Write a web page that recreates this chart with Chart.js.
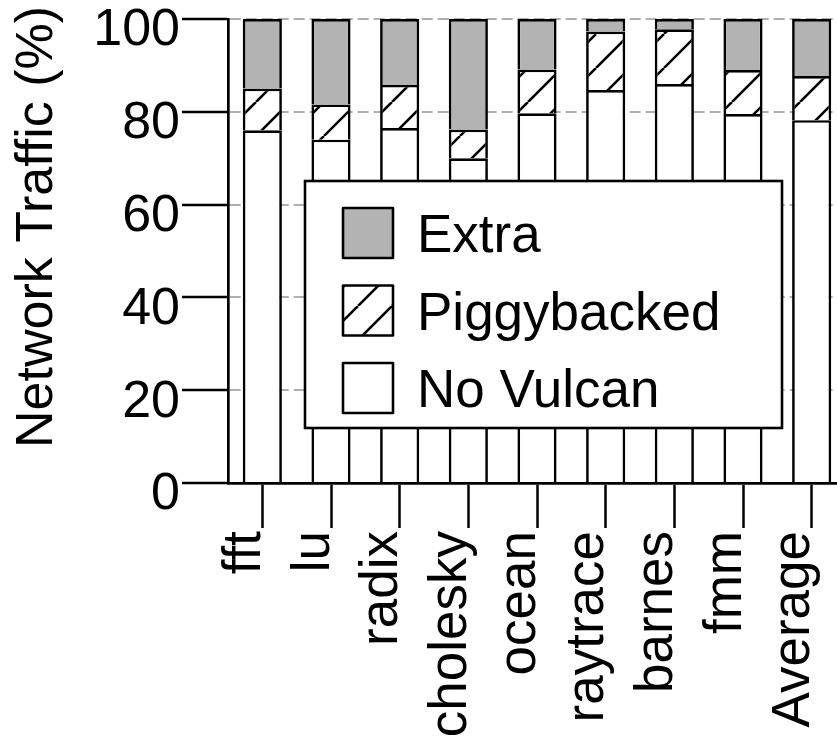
<!DOCTYPE html>
<html><head><meta charset="utf-8">
<script src="https://cdn.jsdelivr.net/npm/chart.js@4"></script>
<style>
html,body{margin:0;padding:0;background:#fff;overflow:hidden;width:837px;height:739px}
#wrap{position:absolute;left:0;top:0;width:870px;height:739px}
</style></head><body>
<div id="wrap"><canvas id="c" width="870" height="739"></canvas></div>
<script>
const categories = ['fft','lu','radix','cholesky','ocean','raytrace','barnes','fmm','Average'];
const noVulcan    = [76.0, 74.0, 76.5, 70.0, 79.7, 84.7, 86.0, 79.5, 78.2];
const piggybacked = [ 9.0,  7.6,  9.3,  6.2,  9.4, 12.6, 11.8,  9.5,  9.5];
const extra       = [15.0, 18.4, 14.2, 23.8, 10.9,  2.7,  2.2, 11.0, 12.3];
const yTickStep = 20;
const yMin = 0, yMax = 100;
const seriesLabels = ['No Vulcan', 'Piggybacked', 'Extra'];
const yTitle = 'Network Traffic (%)';

const FONT = 'Liberation Sans, Arial, Helvetica, sans-serif';
const canvas = document.getElementById('c');
const ctx = canvas.getContext('2d');

function makeHatch() {
  const s = 34;
  const t = document.createElement('canvas');
  t.width = s; t.height = s;
  const g = t.getContext('2d');
  g.fillStyle = '#ffffff'; g.fillRect(0, 0, s, s);
  g.strokeStyle = '#000'; g.lineWidth = 2.6;
  g.beginPath();
  for (const o of [-s, 0, s]) { g.moveTo(o, s); g.lineTo(o + s, 0); }
  g.stroke();
  const p = ctx.createPattern(t, 'repeat');
  try { p.setTransform(new DOMMatrix([1, 0, 0, 1, 18, 0])); } catch (e) {}
  return p;
}
const hatch = makeHatch();

// y-axis title, drawn as canvas text so it can sit slightly above centre like the original
const titlePlugin = {
  id: 'yTitle',
  afterDraw(chart) {
    const c = chart.ctx, a = chart.chartArea;
    c.save();
    c.translate(a.left - 176, a.bottom - 35);
    c.rotate(-Math.PI / 2);
    c.fillStyle = '#000';
    c.font = '52px ' + FONT;
    c.textAlign = 'left';
    c.textBaseline = 'alphabetic';
    c.fillText(yTitle, 0, 0);
    c.restore();
  }
};

const legendPlugin = {
  id: 'boxLegend',
  afterDraw(chart) {
    const c = chart.ctx, a = chart.chartArea;
    const x0 = a.left + 77, y0 = a.top + 162, w = 477, h = 247;
    c.save();
    c.fillStyle = '#fff';
    c.fillRect(x0, y0, w, h);
    c.strokeStyle = '#000'; c.lineWidth = 2.6;
    c.strokeRect(x0, y0, w, h);
    const ds = chart.data.datasets.slice().reverse();
    ds.forEach((d, i) => {
      const top = y0 + 27 + i * 77.5;
      c.fillStyle = d.backgroundColor;
      c.fillRect(x0 + 38, top, 50, 50);
      c.lineJoin = 'round';
      c.strokeRect(x0 + 38, top, 50, 50);
      c.fillStyle = '#000';
      c.font = '53px ' + FONT;
      c.textBaseline = 'alphabetic';
      c.textAlign = 'left';
      c.fillText(d.label, x0 + 112, top + 44);
    });
    c.restore();
  }
};

new Chart(ctx, {
  type: 'bar',
  data: {
    labels: categories,
    datasets: [
      { label: seriesLabels[0], data: noVulcan, backgroundColor: '#ffffff' },
      { label: seriesLabels[1], data: piggybacked, backgroundColor: hatch },
      { label: seriesLabels[2], data: extra, backgroundColor: '#b3b3b3' }
    ]
  },
  options: {
    responsive: false,
    animation: false,
    devicePixelRatio: 1,
    layout: { padding: { left: 0, top: 19, right: 24, bottom: 0 } },
    datasets: { bar: { borderColor: '#000', borderWidth: 2.7, barPercentage: 0.57, categoryPercentage: 1, borderSkipped: 'start' } },
    plugins: { legend: { display: false }, tooltip: { enabled: false } },
    scales: {
      x: {
        stacked: true,
        grid: { offset: false, drawOnChartArea: false, drawTicks: true, tickLength: 45, tickColor: '#000', tickWidth: 2.5 },
        border: { display: true, color: '#000', width: 2.7 },
        ticks: { autoSkip: false, minRotation: 90, maxRotation: 90, padding: 3, labelOffset: -17, color: '#000', font: { family: FONT, size: 53 } },
        afterFit(s) { s.height = 256; s.paddingLeft = 0; s.paddingRight = 0; }
      },
      y: {
        stacked: true, min: yMin, max: yMax,
        ticks: { stepSize: yTickStep, padding: 2, labelOffset: 12, color: '#000', font: { family: FONT, size: 52 } },
        grid: { color: '#b0b0b0', lineWidth: 2, tickColor: '#000', tickWidth: 2.5, tickLength: 46, tickBorderDash: [] },
        border: { display: true, color: '#000', width: 2.7, dash: [11, 5] },
        title: { display: false },
        afterFit(s) { s.width = 228; s.paddingTop = 0; s.paddingBottom = 0; }
      }
    }
  },
  plugins: [titlePlugin, legendPlugin]
});
</script>
</body></html>
